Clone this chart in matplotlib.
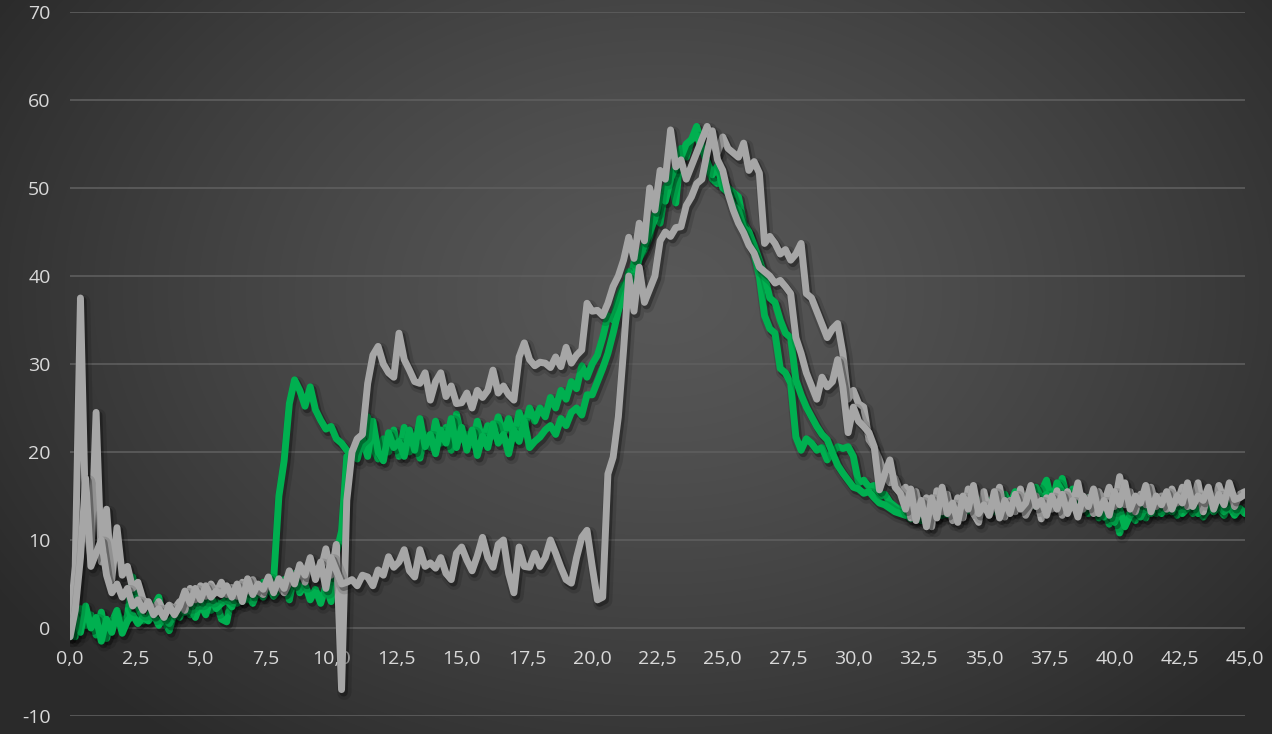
import numpy as np
import matplotlib
matplotlib.use("Agg")
import matplotlib.pyplot as plt
import matplotlib.patheffects as pe
from matplotlib.ticker import FixedLocator, FuncFormatter

STEP = 0.2  # sampling interval of all series

# two green runs
green_a = [
    0.5, -1.0, 2.2, 0.3, 1.5,
    -0.8, 1.8, -1.2, 0.6, 2.0,
    0.2, 1.4, 5.8, 2.5, 0.8,
    1.2, 2.4, 3.5, 0.9, -0.3,
    1.8, 1.2, 2.6, 1.5, 3.2,
    2.4, 3.8, 2.0, 3.0, 1.0,
    0.7, 3.6, 2.8, 4.2, 3.2,
    4.6, 3.8, 5.2, 4.2, 5.5,
    15.0, 19.0, 25.5, 28.2, 27.0,
    25.2, 27.4, 24.8, 23.6, 22.6,
    22.9, 21.5, 21.0, 20.2, 19.8,
    20.5, 21.0, 24.0, 20.5, 19.2,
    21.5, 20.0, 22.5, 19.5, 22.8,
    20.0, 21.8, 19.3, 22.0, 20.5,
    23.5, 21.0, 22.8, 20.2, 24.3,
    21.5, 22.0, 20.8, 23.5, 21.2,
    23.0, 21.8, 24.0, 22.0, 23.8,
    21.5, 24.5, 22.8, 25.0, 23.5,
    25.0, 24.0, 26.2, 25.0, 27.0,
    26.0, 28.0, 27.2, 29.8, 28.5,
    30.0, 31.0, 33.0, 35.5, 35.0,
    37.5, 39.0, 38.0, 41.5, 42.0,
    43.0, 44.5, 47.0, 46.0, 50.0,
    51.0, 48.3, 54.5, 53.5, 55.5,
    57.0, 55.0, 52.5, 51.0, 50.5,
    51.0, 50.0, 49.5, 49.0, 46.0,
    45.0, 42.5, 40.0, 35.5, 34.0,
    33.5, 29.5, 29.0, 27.8, 21.7,
    20.2, 21.5, 21.0, 20.2, 20.5,
    19.1, 20.0, 20.6, 20.4, 20.6,
    19.5, 16.5, 16.8, 16.0, 16.2,
    14.9, 15.2, 14.3, 13.8, 13.4,
    13.0, 12.4, 13.5, 12.2, 13.0,
    12.5, 13.8, 12.8, 14.2, 13.0,
    13.5, 12.8, 14.0, 13.2, 14.5,
    13.8, 14.5, 13.2, 14.8, 13.5,
    14.2, 13.5, 15.0, 14.0, 14.6,
    13.8, 15.5, 16.8, 14.2, 15.0,
    17.0, 14.5, 15.5, 13.8, 14.5,
    13.0, 14.2, 12.5, 13.6, 11.8,
    13.2, 10.8, 12.5, 13.0, 12.2,
    13.5, 12.5, 14.0, 13.0, 13.8,
    13.2, 14.0, 12.8, 13.5, 14.2,
    13.0, 13.8, 12.6, 13.4, 14.0,
    13.5, 12.8, 14.2, 13.0, 13.5,
    13.2,
]

green_b = [
    -1.0, 1.5, -0.5, 2.5, 0.0,
    1.2, -1.5, 1.0, -0.5, 1.8,
    -0.6, 0.8, 1.5, 0.5, 1.2,
    0.8, 1.6, 0.3, 1.2, 0.5,
    1.5, 2.6, 1.8, 2.2, 1.2,
    2.8, 1.5, 3.5, 2.2, 2.8,
    3.2, 2.4, 4.4, 3.0, 3.8,
    2.8, 4.4, 3.5, 4.8, 3.6,
    4.4, 5.5, 3.2, 6.2, 4.0,
    5.0, 3.2, 4.4, 2.8, 4.8,
    3.0, 8.5, 11.0, 19.5, 20.0,
    19.2, 21.5, 19.5, 23.5, 20.0,
    19.0, 22.2, 20.5, 21.2, 19.5,
    22.5, 20.2, 23.8, 20.6, 22.0,
    19.8, 22.5, 21.0, 23.8, 20.5,
    22.8, 20.2, 22.5, 19.6, 21.8,
    20.5, 23.2, 21.0, 22.0, 19.8,
    22.5, 21.2, 23.5, 20.5, 21.2,
    21.7, 22.5, 23.0, 22.0, 23.8,
    23.0, 24.5, 25.0, 24.2, 26.5,
    26.5, 28.0, 29.5, 31.2, 33.5,
    36.0, 38.0, 40.5, 39.5, 42.0,
    43.5, 45.0, 46.5, 49.0, 48.5,
    51.0, 52.5, 53.5, 55.0, 55.5,
    56.0, 54.5, 53.0, 51.5, 52.5,
    50.0, 49.5, 48.0, 47.5, 45.5,
    45.0, 43.5, 41.8, 40.0, 37.5,
    37.0, 35.0, 33.5, 33.0, 28.2,
    26.5, 25.1, 24.0, 22.9, 22.0,
    21.4, 19.9, 18.5, 17.6, 16.8,
    16.0, 15.8, 15.3, 15.5, 14.8,
    14.2, 14.0, 13.6, 13.2, 13.0,
    12.8, 13.5, 12.4, 13.2, 12.6,
    13.4, 12.6, 13.8, 12.9, 13.6,
    13.0, 14.2, 13.3, 14.0, 12.8,
    14.5, 13.5, 14.8, 13.6, 15.2,
    14.0, 15.5, 14.2, 15.0, 14.4,
    16.0, 14.6, 15.2, 14.0, 16.5,
    15.5, 14.2, 15.8, 14.5, 13.5,
    14.8, 13.2, 14.0, 12.6, 13.5,
    12.0, 13.6, 11.5, 12.8, 13.4,
    12.6, 13.8, 13.0, 14.2, 13.0,
    14.0, 13.2, 14.5, 13.0, 13.6,
    14.2, 13.0, 13.8, 14.4, 13.2,
    14.0, 13.2, 13.8, 12.8, 13.6,
    13.0,
]

# two grey runs
grey_a = [
    0.5, 7.0, 37.5, 12.0, 8.0,
    24.5, 7.5, 13.5, 5.5, 11.4,
    6.0, 7.0, 4.5, 5.2, 3.2,
    2.8, 2.0, 3.0, 1.8, 2.6,
    2.2, 3.0, 2.0, 4.5, 3.2,
    4.8, 3.6, 5.0, 4.0, 5.2,
    3.8, 4.6, 3.6, 5.2, 4.2,
    5.5, 4.2, 3.8, 5.4, 4.6,
    4.8, 4.0, 5.2, 5.8, 6.8,
    5.2, 7.5, 5.8, 6.5, 9.0,
    6.0, 9.5, -7.0, 14.5, 20.0,
    21.5, 22.0, 27.8, 31.0, 32.0,
    30.0, 29.0, 28.5, 33.5, 30.5,
    29.3, 28.0, 27.8, 29.0, 25.9,
    28.0, 29.0, 26.3, 27.5, 25.5,
    25.6, 26.7, 25.0, 27.0, 26.2,
    27.0, 29.3, 26.7, 27.5, 26.5,
    25.9, 30.8, 32.4, 30.5, 29.8,
    30.2, 30.1, 29.6, 30.8, 29.7,
    31.9, 30.1, 31.0, 31.6, 36.9,
    36.0, 36.1, 35.5, 36.9, 38.8,
    40.0, 41.8, 44.4, 42.0, 46.0,
    44.0, 50.0, 47.5, 52.0, 51.0,
    56.6, 52.4, 53.2, 51.0, 52.5,
    54.0, 55.5, 57.0, 55.0, 54.0,
    55.8, 54.5, 54.0, 53.5, 55.1,
    52.0, 53.0, 51.7, 43.7, 44.5,
    43.7, 42.5, 43.0, 41.8, 42.5,
    43.7, 38.0, 37.5, 36.0, 34.5,
    33.0, 34.0, 34.6, 31.2, 26.0,
    27.0, 25.5, 25.1, 21.4, 20.5,
    19.1, 17.5, 16.5, 17.0, 15.3,
    16.0, 12.5, 15.5, 13.0, 14.8,
    11.5, 15.6, 13.2, 15.2, 12.2,
    14.8, 12.5, 15.8, 13.0, 12.0,
    15.5, 12.8, 14.2, 16.0, 12.6,
    14.5, 13.2, 15.8, 12.8, 14.0,
    15.0, 12.4, 14.8, 13.5, 15.6,
    12.8, 15.5, 14.0, 16.5, 13.5,
    14.8, 13.0, 15.5, 14.2, 16.0,
    13.8, 17.2, 14.0, 15.5, 13.2,
    15.2, 14.0, 16.0, 13.8, 15.0,
    13.5, 15.8, 14.2, 16.0, 13.8,
    14.5, 16.5, 13.2, 15.5, 14.0,
    16.2, 14.5, 15.8, 13.8, 15.2,
    15.5,
]

grey_b = [
    -1.0, 2.0, 8.0, 17.0, 7.0,
    8.5, 10.0, 6.0, 4.0, 5.0,
    3.5, 4.5, 2.5, 3.2, 2.0,
    3.0, 1.5, 2.2, 1.2, 2.5,
    1.5, 2.5, 4.2, 2.8, 4.5,
    3.2, 4.8, 3.5, 4.2, 3.8,
    4.8, 3.5, 5.0, 3.0, 5.6,
    3.8, 5.0, 4.4, 5.8, 4.0,
    5.6, 4.5, 6.5, 5.0, 7.2,
    6.0, 8.0, 5.5, 7.5, 4.5,
    8.0, 6.5, 5.0, 5.2, 5.5,
    4.8, 6.0, 5.8, 4.8, 6.6,
    6.0, 8.1, 6.9, 7.5, 8.9,
    6.5, 5.8, 8.9, 7.0, 7.4,
    6.8, 8.0, 6.2, 5.5, 8.5,
    9.2, 7.7, 6.5, 8.2, 10.3,
    8.0, 6.9, 9.5, 10.0, 6.2,
    4.0, 9.2, 7.0, 6.9, 8.5,
    7.0, 8.0, 10.0, 8.5, 6.9,
    5.5, 5.1, 8.0, 10.3, 11.1,
    7.0, 3.2, 3.5, 17.5, 19.4,
    24.0, 31.6, 40.0, 36.0, 41.0,
    37.0, 38.5, 40.0, 44.0, 45.0,
    44.5, 45.5, 45.6, 48.0, 49.0,
    50.5, 51.0, 54.0, 56.5, 53.2,
    52.0, 49.4, 47.5, 46.0, 44.9,
    43.5, 42.6, 41.0, 40.5, 40.0,
    39.2, 39.5, 38.8, 38.0, 33.0,
    31.2, 29.0, 27.5, 26.0, 28.5,
    27.4, 28.0, 30.5, 27.4, 22.2,
    25.1, 23.5, 22.9, 22.2, 20.6,
    15.7, 17.5, 19.1, 16.0, 15.3,
    13.5, 15.8, 12.2, 14.5, 11.5,
    14.8, 12.5, 16.0, 13.0, 14.2,
    12.0, 15.0, 13.5, 16.2, 13.0,
    14.0, 12.8, 15.5, 12.5, 14.5,
    13.0, 15.2, 13.5, 14.2, 16.2,
    13.8, 14.5, 12.8, 15.0, 13.5,
    15.2, 13.0, 14.5, 12.6, 15.0,
    13.8, 15.8, 13.0, 14.5, 12.8,
    15.5, 14.0, 16.5, 13.5, 15.0,
    14.2, 16.2, 13.2, 15.0, 14.0,
    15.5, 13.5, 15.0, 14.2, 16.5,
    13.8, 15.0, 14.5, 16.0, 13.5,
    15.2, 14.0, 16.5, 14.6, 14.8,
    15.2,
]

x_ticks = [0.0, 2.5, 5.0, 7.5, 10.0, 12.5, 15.0, 17.5, 20.0, 22.5,
           25.0, 27.5, 30.0, 32.5, 35.0, 37.5, 40.0, 42.5, 45.0]
y_ticks = [-10, 0, 10, 20, 30, 40, 50, 60, 70]

GREEN = "#00b050"
GREY = "#a6a6a6"
TEXT = "#d9d9d9"
LW = 5.0

plt.rcParams["font.family"] = ["Open Sans", "DejaVu Sans"]

W, H, DPI = 1272, 734, 100
fig = plt.figure(figsize=(W / DPI, H / DPI), dpi=DPI)

# radial background
bg = fig.add_axes([0, 0, 1, 1], zorder=-10)
bg.axis("off")
yy, xx = np.mgrid[0:H, 0:W]
cx, cy = 0.52 * W, 0.40 * H
r = np.sqrt(((xx - cx) / (0.62 * W)) ** 2 + ((yy - cy) / (0.78 * H)) ** 2)
r = np.clip(r, 0, 1)
level = 0.345 - (0.345 - 0.165) * r ** 1.3
img = np.dstack([level, level, level])
bg.imshow(img, extent=[0, 1, 0, 1], aspect="auto", origin="upper")
bg.set_xlim(0, 1)
bg.set_ylim(0, 1)

ax = fig.add_axes([70 / W, 1 - 716 / H, (1245 - 70) / W, (716 - 12) / H])
ax.patch.set_alpha(0)
ax.set_xlim(0, 45)
ax.set_ylim(-10, 70)

# soft drop shadow built from a wide faint layer and a narrower darker one
shadow = [pe.SimpleLineShadow(offset=(2.0, -2.5), shadow_color="black", alpha=0.12,
                              linewidth=LW * 2.0),
          pe.SimpleLineShadow(offset=(1.5, -2.0), shadow_color="black", alpha=0.3,
                              linewidth=LW * 1.2),
          pe.Normal()]

def draw(series, color):
    t = np.arange(len(series)) * STEP
    ax.plot(t, series, color=color, lw=LW, solid_joinstyle="round",
            solid_capstyle="round", path_effects=shadow)

draw(green_a, GREEN)
draw(green_b, GREEN)
draw(grey_a, GREY)
draw(grey_b, GREY)

for s in ax.spines.values():
    s.set_visible(False)
ax.spines["bottom"].set_position(("data", 0))

ax.yaxis.set_major_locator(FixedLocator(y_ticks))
ax.xaxis.set_major_locator(FixedLocator(x_ticks))
ax.xaxis.set_major_formatter(FuncFormatter(lambda v, p: f"{v:.1f}".replace(".", ",")))
ax.yaxis.set_major_formatter(FuncFormatter(lambda v, p: f"{int(v)}"))
ax.tick_params(axis="both", length=0, labelsize=14, labelcolor=TEXT)
ax.tick_params(axis="x", pad=16)
ax.tick_params(axis="y", pad=14)
ax.grid(axis="y", color="#5e5e5e", lw=1.2)
ax.set_axisbelow(True)

fig.savefig("out.png", dpi=DPI)
